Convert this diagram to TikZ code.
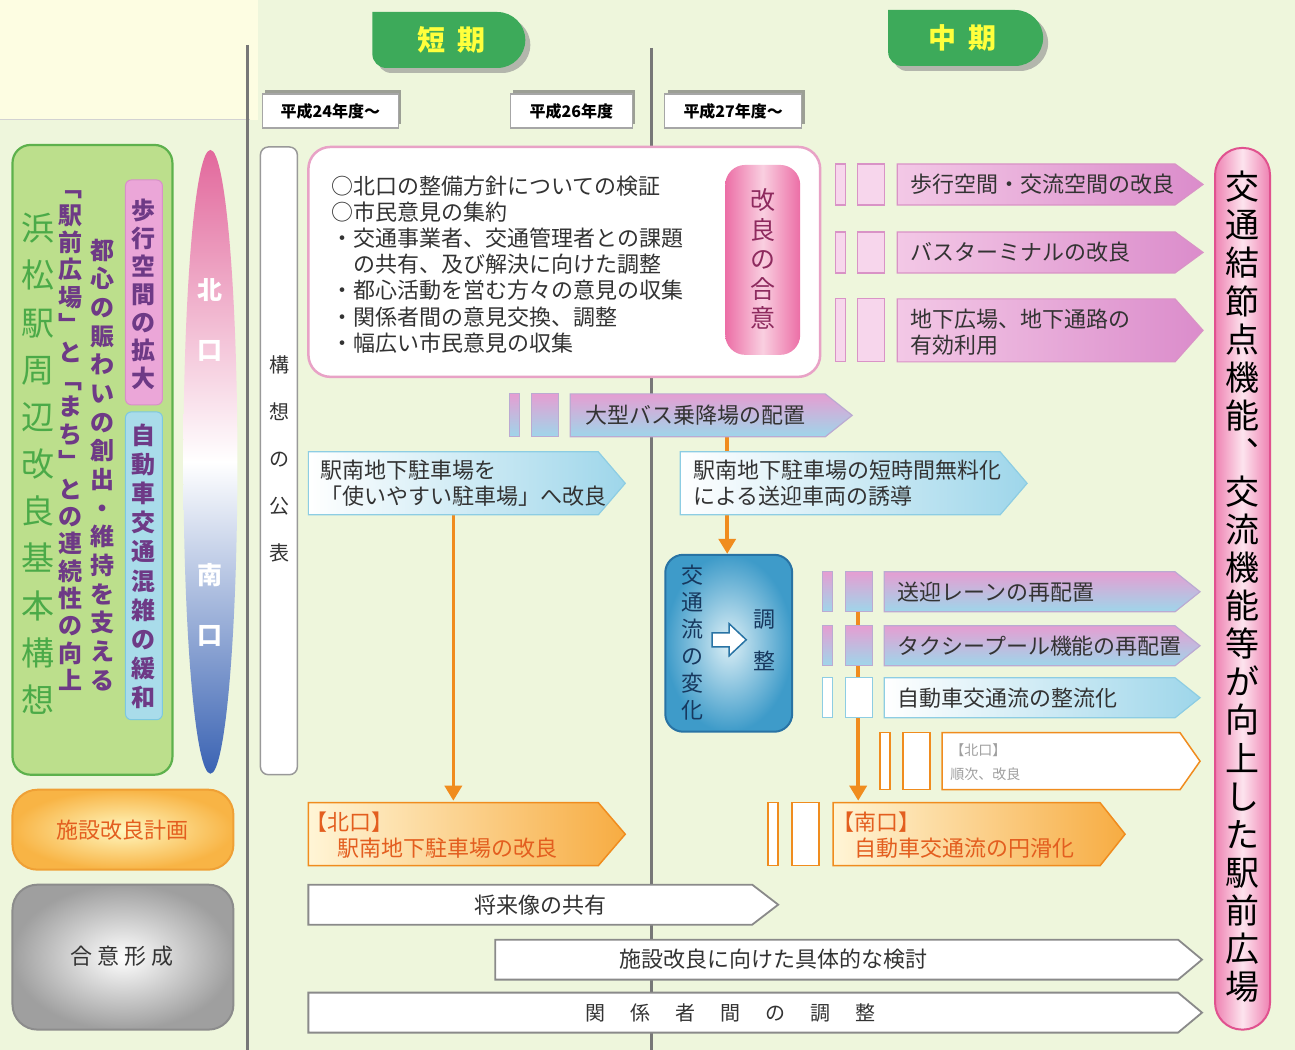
\documentclass[tikz,border=0pt]{standalone}
\usepackage{fontspec}
\setmainfont{Noto Sans CJK JP}
\usetikzlibrary{arrows.meta,shadows}
\definecolor{bgG}{HTML}{EEF6DC}
\definecolor{bgY}{HTML}{FDFDE2}
\definecolor{vline}{HTML}{777777}
\definecolor{tabG}{HTML}{3DAA5A}
\definecolor{tabT}{HTML}{FFFF3C}
\definecolor{grnF}{HTML}{BCDF8C}
\definecolor{grnB}{HTML}{5DB14C}
\definecolor{grnT}{HTML}{4BAA48}
\definecolor{purT}{HTML}{6E3A86}
\definecolor{pkBox}{HTML}{EBA6D8}
\definecolor{pkBoxB}{HTML}{D890C8}
\definecolor{blBox}{HTML}{A9DCEA}
\definecolor{blBoxB}{HTML}{7CC8E0}
\definecolor{ellP}{HTML}{E2689C}
\definecolor{ellB}{HTML}{3A63B3}
\definecolor{pkLine}{HTML}{E8A2C6}
\definecolor{pkDeep}{HTML}{EC6EA6}
\definecolor{pkLight}{HTML}{F9CFE0}
\definecolor{pkText}{HTML}{8E2A5E}
\definecolor{rbB}{HTML}{E0528F}
\definecolor{rbD}{HTML}{EE82B2}
\definecolor{rbL}{HTML}{FDE4EE}
\definecolor{arPkL}{HTML}{F3C8E6}
\definecolor{arPkR}{HTML}{DB8CCB}
\definecolor{arPkB}{HTML}{D993C6}
\definecolor{slPk}{HTML}{F7D6EC}
\definecolor{arBl}{HTML}{9ED6EA}
\definecolor{arBlB}{HTML}{8DCDE3}
\definecolor{arTop}{HTML}{E59ED2}
\definecolor{org}{HTML}{F08C1E}
\definecolor{orgL}{HTML}{FFF5D6}
\definecolor{orgR}{HTML}{F7AC42}
\definecolor{orgT}{HTML}{E35E1F}
\definecolor{tfB}{HTML}{3E9BC9}
\definecolor{tfL}{HTML}{DCEFF6}
\definecolor{tfD}{HTML}{2873A4}
\definecolor{tfT}{HTML}{17385E}
\definecolor{gryB}{HTML}{8A8A8A}
\definecolor{txt}{HTML}{333333}
\definecolor{plY}{HTML}{FFF7BF}
\definecolor{plO}{HTML}{F8B445}
\definecolor{plB}{HTML}{EFA035}
\newcommand\ArrShape[6][]{\path[#1] (#2,#3) -- (#4,#3) -- (#6,{(#3+#5)/2}) -- (#4,#5) -- (#2,#5) -- cycle;}
\newcommand\SlotPair[5][]{\path[#1] (#2,#4) rectangle ({#2+10},#5); \path[#1] (#3,#4) rectangle ({#3+27},#5);}
\newcommand\TabShape[4][]{\path[#1] (#2,#4) -- ({#3-28},#4) arc[start angle=90,end angle=-90,radius=28pt] -- ({#2+14},{#4+56}) arc[start angle=-90,end angle=-180,radius=14pt] -- cycle;}
\begin{document}
\begin{tikzpicture}[x=1pt,y=-1pt,
  every node/.style={inner sep=0pt},
  lbl/.style={anchor=west, align=left, text=txt, font=\fontsize{22}{26}\selectfont},
  ctr/.style={anchor=center, align=center, text=txt, font=\fontsize{22}{26}\selectfont},
  vtx/.style={align=center},
  yearbox/.style={draw=gray!70, line width=1.2pt, fill=white, minimum width=136pt, minimum height=34pt, font=\bfseries\fontsize{16}{18}\selectfont, drop shadow={shadow xshift=3pt, shadow yshift=4pt, opacity=0.6, fill=gray!80!black}},
  oarrow/.style={draw=org, line width=3.5pt, -{Triangle[width=17pt,length=15pt]}},
  pkArr/.style={left color=arPkL, right color=arPkR, draw=arPkB, line width=1.2pt},
  pbArr/.style={top color=arTop, bottom color=arBl, draw=arPkB!60!arBlB, line width=1.2pt},
  lbArr/.style={left color=white, right color=arBl, draw=arBlB, line width=1.2pt},
  orArr/.style={left color=orgL, right color=orgR, draw=org, line width=1.5pt},
  owArr/.style={fill=white, draw=org, line width=1.5pt},
  wArr/.style={fill=white, draw=gryB, line width=1.8pt},
  pkSlot/.style={fill=slPk, draw=arPkB, line width=1.2pt},
  pbSlot/.style={top color=arTop, bottom color=arBl, draw=arPkB!60!arBlB, line width=1.2pt},
  lbSlot/.style={fill=white, draw=arBlB, line width=1.2pt},
  orSlot/.style={fill=white, draw=org, line width=1.5pt}
]
% background
\fill[bgG] (0,0) rectangle (1295,1050);
\fill[bgY] (0,0) rectangle (258,120);
\draw[gray!35, line width=1pt] (0,120) -- (250,120);
\useasboundingbox (0,0) rectangle (1295,1050);
% period lines
\draw[vline, line width=3pt] (247,45) -- (247,1050);
\draw[vline, line width=3pt] (651,48) -- (651,1050);
% tabs
\TabShape[fill=black!45, opacity=0.6]{377}{530}{17}
\TabShape[fill=tabG]{372}{525}{12}
\node[font=\bfseries\fontsize{28}{30}\selectfont, text=tabT] (tabS) at (451,40) {短\hspace{12pt}期};
\TabShape[fill=black!45, opacity=0.6]{893}{1048}{15}
\TabShape[fill=tabG]{888}{1043}{10}
\node[font=\bfseries\fontsize{28}{30}\selectfont, text=tabT] (tabM) at (962,38) {中\hspace{12pt}期};
% year boxes
\node[yearbox] (yr24) at (330,111) {平成24年度～};
\node[yearbox, minimum width=122pt] (yr26) at (571,111) {平成26年度};
\node[yearbox, minimum width=137pt] (yr27) at (733,111) {平成27年度～};
% left green box
\draw[draw=grnB, line width=2.2pt, fill=grnF, rounded corners=18pt] (12,145) rectangle (172,775);
\node[vtx, text=grnT, font=\fontsize{33}{47.2}\selectfont] (title) at (38,464) {浜\\松\\駅\\周\\辺\\改\\良\\基\\本\\構\\想};
\node[vtx, text=purT, font=\bfseries\fontsize{24}{27.4}\selectfont] (colB) at (70,441) {﹁\\駅\\前\\広\\場\\﹂\\と\\﹁\\ま\\ち\\﹂\\と\\の\\連\\続\\性\\の\\向\\上};
\node[vtx, text=purT, font=\bfseries\fontsize{24}{28.7}\selectfont] (colA) at (102,465) {都\\心\\の\\賑\\わ\\い\\の\\創\\出\\・\\維\\持\\を\\支\\え\\る};
\draw[fill=pkBox, draw=pkBoxB, line width=1pt, rounded corners=6pt] (125,180) rectangle (162,405);
\node[vtx, text=purT, font=\bfseries\fontsize{24}{28}\selectfont] (walk) at (143.5,294) {歩\\行\\空\\間\\の\\拡\\大};
\draw[fill=blBox, draw=blBoxB, line width=1pt, rounded corners=6pt] (125,412) rectangle (162,720);
\node[vtx, text=purT, font=\bfseries\fontsize{24}{29.2}\selectfont] (car) at (143.5,566.5) {自\\動\\車\\交\\通\\混\\雑\\の\\緩\\和};
% north/south ellipse
\shade[top color=ellP, bottom color=ellB, middle color=white] (210,462) ellipse [x radius=27pt, y radius=312pt];
\node[vtx, font=\bfseries\fontsize{25}{60}\selectfont, text=white] (north) at (210,320) {北\\口};
\node[vtx, font=\bfseries\fontsize{25}{60}\selectfont, text=white] (south) at (210,605) {南\\口};
% publication column
\draw[draw=gray!80, line width=1.5pt, fill=white, rounded corners=8pt] (260,147) rectangle (297,775);
\node[vtx, text=txt, font=\fontsize{20}{47}\selectfont] (pub) at (279,459) {構\\想\\の\\公\\表};
% connectors (behind boxes)
\coordinate (busS) at (727,437);
\coordinate (tfN) at (727,554);
\draw[oarrow] (busS) -- (tfN);
\coordinate (pkS) at (453,515);
\coordinate (nkN) at (453,801);
\draw[oarrow] (pkS) -- (nkN);
\coordinate (sgS) at (858,592);
\coordinate (skN) at (858,801);
\draw[oarrow] (sgS) -- (skN);
% big pink box
\draw[draw=pkLine, line width=2.5pt, fill=white, rounded corners=22pt] (308,147) rectangle (820,377);
\node[lbl, font=\fontsize{22}{26.2}\selectfont] (list) at (331,264.5) {○北口の整備方針についての検証\\○市民意見の集約\\・交通事業者、交通管理者との課題\\　の共有、及び解決に向けた調整\\・都心活動を営む方々の意見の収集\\・関係者間の意見交換、調整\\・幅広い市民意見の収集};
\path[left color=pkDeep, right color=pkDeep, middle color=pkLight, rounded corners=20pt] (725,165) rectangle (800,355);
\node[vtx, text=pkText, font=\fontsize{25}{29.5}\selectfont] (agree) at (762.5,259) {改\\良\\の\\合\\意};
% right pink arrows
\SlotPair[pkSlot]{835}{857}{164}{205}
\ArrShape[pkArr]{897}{164}{1175}{205}{1203}
\node[lbl] (a1) at (910,184.5) {歩行空間・交流空間の改良};
\SlotPair[pkSlot]{835}{857}{232}{273}
\ArrShape[pkArr]{897}{232}{1175}{273}{1203}
\node[lbl] (a2) at (910,252.5) {バスターミナルの改良};
\SlotPair[pkSlot]{835}{857}{299}{362}
\ArrShape[pkArr]{897}{299}{1175}{362}{1203}
\node[lbl] (a3) at (910,332) {地下広場、地下通路の\\有効利用};
% bus
\SlotPair[pbSlot]{509}{531}{394}{437}
\ArrShape[pbArr]{570}{394}{825}{437}{852}
\node[lbl] (bus) at (585,415) {大型バス乗降場の配置};
% parking
\ArrShape[lbArr]{308}{452}{598}{515}{625}
\node[lbl] (park1) at (320,483) {駅南地下駐車場を\\「使いやすい駐車場」へ改良};
\ArrShape[lbArr]{680}{452}{1000}{515}{1027}
\node[lbl] (park2) at (693,483) {駅南地下駐車場の短時間無料化\\による送迎車両の誘導};
% traffic flow box
\path[draw=tfD, line width=2pt, inner color=tfL, outer color=tfB, rounded corners=18pt] (665,555) rectangle (792,732);
\node[vtx, text=tfT, font=\fontsize{22}{27}\selectfont] (flow) at (692,642.5) {交\\通\\流\\の\\変\\化};
\node[vtx, text=tfT, font=\fontsize{22}{42}\selectfont] (adj) at (764,641) {調\\整};
\draw[fill=white, draw=tfD, line width=1.5pt] (712,633) -- (729,633) -- (729,624) -- (746,640) -- (729,656) -- (729,647) -- (712,647) -- cycle;
% mid arrows
\SlotPair[pbSlot]{822}{845}{572}{612}
\ArrShape[pbArr]{884}{572}{1175}{612}{1200}
\node[lbl] (m1) at (897,592) {送迎レーンの再配置};
\SlotPair[pbSlot]{822}{845}{626}{666}
\ArrShape[pbArr]{884}{626}{1175}{666}{1200}
\node[lbl] (m2) at (897,646) {タクシープール機能の再配置};
\SlotPair[lbSlot]{822}{845}{678}{718}
\ArrShape[lbArr]{884}{678}{1175}{718}{1200}
\node[lbl] (m3) at (897,698) {自動車交通流の整流化};
% north seq
\SlotPair[orSlot]{880}{903}{733}{790}
\ArrShape[owArr]{942}{733}{1180}{790}{1200}
\node[lbl, text=gray!75, font=\fontsize{14}{24}\selectfont] (nseq) at (950,762) {【北口】\\順次、改良};
% south / north orange
\SlotPair[orSlot]{768}{792}{803}{866}
\ArrShape[orArr]{833}{803}{1100}{866}{1125}
\node[lbl, text=orgT] (sth) at (832,835) {【南口】\\\hspace{22pt}自動車交通流の円滑化};
\ArrShape[orArr]{308}{803}{598}{866}{625}
\node[lbl, text=orgT] (nth) at (305,835) {【北口】\\\hspace{32pt}駅南地下駐車場の改良};
% white arrows
\ArrShape[wArr]{308}{885}{752}{925}{778}
\node[ctr] (w1) at (540,905) {将来像の共有};
\ArrShape[wArr]{495}{940}{1178}{980}{1202}
\node[ctr] (w2) at (773,960) {施設改良に向けた具体的な検討};
\ArrShape[wArr]{308}{993}{1178}{1033}{1202}
\node[ctr, font=\fontsize{20}{24}\selectfont] (w3) at (730,1013) {関\hspace{25pt}係\hspace{25pt}者\hspace{25pt}間\hspace{25pt}の\hspace{25pt}調\hspace{25pt}整};
% bottom-left boxes
\path[draw=plB, line width=2pt, inner color=plY, outer color=plO, rounded corners=25pt] (12,790) rectangle (233,870);
\node[ctr, text=orgT] (plan) at (122,830) {施設改良計画};
\path[draw=gray!90, line width=2pt, inner color=white, outer color=gray!75, rounded corners=25pt] (12,885) rectangle (233,1030);
\node[ctr] (cons) at (122,957) {合\hspace{5pt}意\hspace{5pt}形\hspace{5pt}成};
% right goal box
\path[draw=rbB, line width=2pt, left color=rbD, right color=rbD, middle color=rbL, rounded corners=27pt] (1215,148) rectangle (1270,1030);
\node[vtx, text=black, font=\fontsize{34}{38.1}\selectfont] (goal) at (1242.5,587) {交\\通\\結\\節\\点\\機\\能\\︑\\交\\流\\機\\能\\等\\が\\向\\上\\し\\た\\駅\\前\\広\\場};
\end{tikzpicture}
\end{document}
